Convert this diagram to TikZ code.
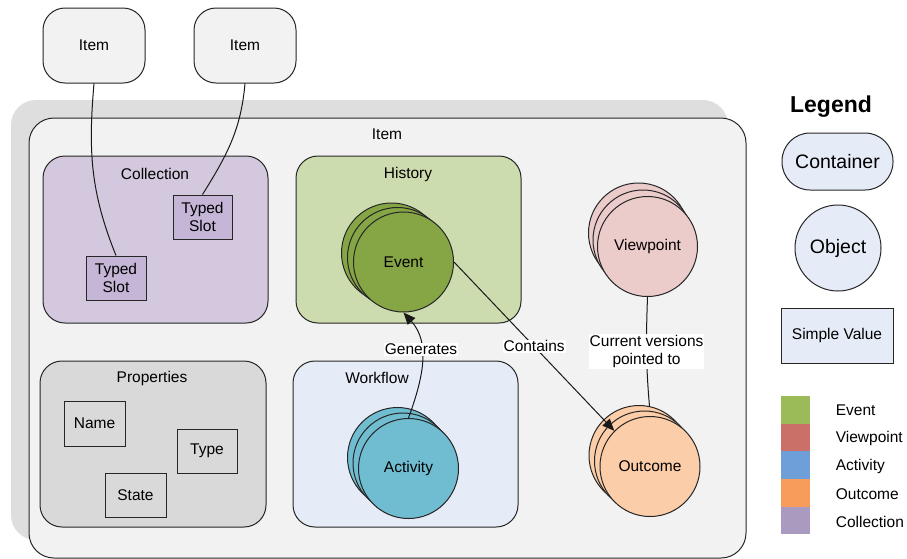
\documentclass[tikz,border=0pt]{standalone}
\usepackage{fontspec}
\setmainfont{Liberation Sans}
\usetikzlibrary{arrows.meta}

\definecolor{itembg}{HTML}{F2F2F2}
\definecolor{shadebg}{HTML}{DEDEDE}
\definecolor{collbg}{HTML}{D3C8DE}
\definecolor{slotbg}{HTML}{C5B5D7}
\definecolor{histbg}{HTML}{CDDCAF}
\definecolor{eventfill}{HTML}{86A545}
\definecolor{flowbg}{HTML}{E6ECF7}
\definecolor{actfill}{HTML}{70BDD1}
\definecolor{propbg}{HTML}{D9D9D9}
\definecolor{viewfill}{HTML}{ECCBCB}
\definecolor{outfill}{HTML}{FBCDA8}
\definecolor{keyevent}{HTML}{9BBB59}
\definecolor{keyview}{HTML}{CB6F69}
\definecolor{keyact}{HTML}{6F9FD8}
\definecolor{keyout}{HTML}{F79C5A}
\definecolor{keycoll}{HTML}{AA9AC0}

\begin{document}
\begin{tikzpicture}[x=1pt,y=-1pt,line width=1pt,
    every node/.style={font=\fontsize{15.5}{18}\selectfont},
    box/.style={draw=black!85,rounded corners=22pt,inner sep=0pt},
    value/.style={draw=black!85,inner sep=0pt,align=center},
    obj/.style={draw=black!85,circle,minimum size=100pt,inner sep=0pt},
    tag/.style={fill=white,inner sep=1pt,align=center},
    arr/.style={-{Triangle[length=12pt,width=10pt]}},
    key/.style={minimum width=29pt,minimum height=27.6pt,inner sep=0pt}]
  \useasboundingbox (0,0) rectangle (907,558);

  % outer item with its shadow
  \node[fill=shadebg,rounded corners=25pt,minimum width=717pt,minimum height=440pt] (shadow) at (369.5,320) {};
  \node[box,fill=itembg,rounded corners=25pt,minimum width=717pt,minimum height=440pt] (item) at (387.5,338) {};
  \node (itemtitle) at (387,134) {Item};

  % referenced items
  \node[box,fill=itembg,minimum width=102pt,minimum height=75pt] (item1) at (94,45.5) {Item};
  \node[box,fill=itembg,minimum width=102pt,minimum height=75pt] (item2) at (245,45.5) {Item};

  % containers
  \node[box,fill=collbg,minimum width=225pt,minimum height=167pt] (coll) at (155.5,239.5) {};
  \node (colltitle) at (155,174) {Collection};
  \node[box,fill=histbg,minimum width=225pt,minimum height=167pt] (hist) at (408.5,239.5) {};
  \node (histtitle) at (408,174) {History};
  \node[box,fill=propbg,minimum width=226pt,minimum height=166pt] (prop) at (153,444) {};
  \node (proptitle) at (152,378) {Properties};
  \node[box,fill=flowbg,minimum width=225pt,minimum height=166pt] (flow) at (405.5,444) {};
  \node (flowtitle) at (377,378) {Workflow};

  % simple values
  \node[value,fill=slotbg,minimum width=59pt,minimum height=44pt] (slot1) at (202.5,217) {Typed\\Slot};
  \node[value,fill=slotbg,minimum width=60pt,minimum height=44pt] (slot2) at (116,278) {Typed\\Slot};
  \node[value,fill=propbg,minimum width=61pt,minimum height=45pt] (name) at (94.5,423.5) {Name};
  \node[value,fill=propbg,minimum width=60pt,minimum height=44pt] (type) at (207,451) {Type};
  \node[value,fill=propbg,minimum width=61pt,minimum height=44pt] (state) at (135.5,495) {State};

  % objects
  \node[obj,fill=eventfill] (event3) at (391.5,253) {};
  \node[obj,fill=eventfill] (event2) at (397.5,257.5) {};
  \node[obj,fill=eventfill] (event) at (403.5,262) {Event};
  \node[obj,fill=actfill] (act3) at (397.5,457.5) {};
  \node[obj,fill=actfill] (act2) at (403,463) {};
  \node[obj,fill=actfill] (act) at (408.5,468.5) {Activity};
  \node[obj,fill=viewfill] (view3) at (638.5,233) {};
  \node[obj,fill=viewfill] (view2) at (643,240) {};
  \node[obj,fill=viewfill] (view) at (647.5,246.5) {Viewpoint};
  \node[obj,fill=outfill] (out3) at (639,455.5) {};
  \node[obj,fill=outfill] (out2) at (644.5,461) {};
  \node[obj,fill=outfill] (out) at (650,466.5) {Outcome};

  \begin{scope}[draw=black!90]
    \draw (item1.south) to[out=-95,in=112] (slot2.north);
    \draw (item2.south) to[out=-95,in=58] (slot1.north);
    \draw[arr] (act.north) to[out=70,in=-48] node[tag,pos=0.62] (gen) {Generates} (event.south);
    \draw[arr] (event.east) -- node[tag] (cont) {Contains} (out.135);
    \draw (view.south) to[out=-92,in=95] node[tag] (cur) {Current versions\\pointed to} (out3.78);
  \end{scope}

  % legend
  \node[font=\fontsize{23}{26}\selectfont\bfseries] (legend) at (831,107) {Legend};
  \node[draw=black!85,fill=flowbg,rounded corners=28pt,minimum width=111pt,minimum height=57pt,font=\fontsize{19.5}{22}\selectfont] (lcont) at (837.5,161.5) {Container};
  \node[draw=black!85,fill=flowbg,circle,minimum size=86pt,inner sep=0pt,font=\fontsize{19.5}{22}\selectfont] (lobj) at (838,248) {Object};
  \node[value,fill=flowbg,minimum width=112pt,minimum height=55pt] (lval) at (837,335.5) {Simple Value};

  \node[key,fill=keyevent] (kevent) at (795.5,410) {};
  \node[key,fill=keyview] (kview) at (795.5,437.6) {};
  \node[key,fill=keyact] (kact) at (795.5,465.2) {};
  \node[key,fill=keyout] (kout) at (795.5,492.8) {};
  \node[key,fill=keycoll] (kcoll) at (795.5,520.4) {};
  \node[anchor=west] (tevent) at (832,410) {Event};
  \node[anchor=west] (tview) at (832,438) {Viewpoint};
  \node[anchor=west] (tact) at (832,466) {Activity};
  \node[anchor=west] (tout) at (832,494) {Outcome};
  \node[anchor=west] (tcoll) at (832,522) {Collection};
\end{tikzpicture}
\end{document}
